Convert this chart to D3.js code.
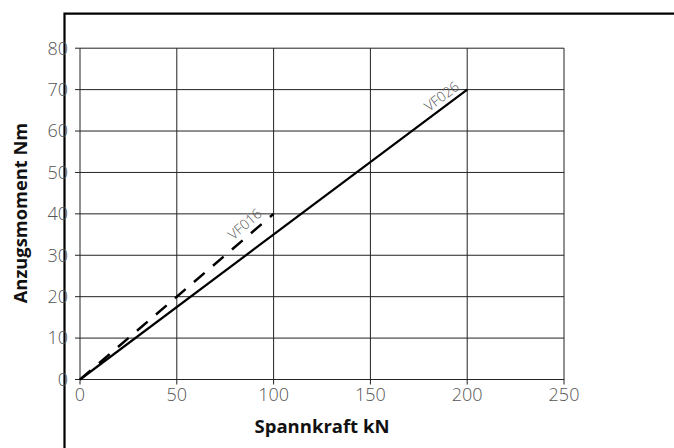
<!DOCTYPE html>
<html><head><meta charset="utf-8">
<script src="https://cdn.jsdelivr.net/npm/d3@7"></script>
<style>body{margin:0;background:#fff}svg{display:block}</style>
</head><body>
<svg id="c" width="674" height="448"></svg>
<script>
const xTicks = [0, 50, 100, 150, 200, 250];
const yTicks = [0, 10, 20, 30, 40, 50, 60, 70, 80];
const seriesNames = ["VF016", "VF026"];
const vf016 = [[0, 0], [100, 40]];
const vf026 = [[0, 0], [200, 70]];
const xTitle = "Spannkraft kN";
const yTitle = "Anzugsmoment Nm";

const svg = d3.select("#c");
const x = d3.scaleLinear().domain([0, 250]).range([80, 564]);
const y = d3.scaleLinear().domain([0, 80]).range([379.5, 48.2]);

// grid
const g = svg.append("g");
g.selectAll(".vg").data(xTicks).join("line")
  .attr("x1", d => x(d)).attr("x2", d => x(d))
  .attr("y1", y(80)).attr("y2", y(0) + 5)
  .attr("stroke", "#222").attr("stroke-width", 1);
g.selectAll(".hg").data(yTicks).join("line")
  .attr("y1", d => y(d)).attr("y2", d => y(d))
  .attr("x1", x(0) - 5).attr("x2", x(250))
  .attr("stroke", "#222").attr("stroke-width", 1);

// frame
svg.append("path").attr("d", "M64.5,448 V13.7 H674")
  .attr("fill", "none").attr("stroke", "#000").attr("stroke-width", 2.2);

// tick labels
const tf = "'Open Sans', sans-serif";
svg.append("g").selectAll("text").data(yTicks).join("text")
  .attr("x", 68).attr("y", d => y(d)).attr("dy", "0.35em")
  .attr("text-anchor", "end").attr("font-family", tf).attr("font-weight", 300)
  .attr("font-size", 18).attr("fill", "#555").text(d => d);
svg.append("g").selectAll("text").data(xTicks).join("text")
  .attr("x", d => x(d)).attr("y", 401)
  .attr("text-anchor", "middle").attr("font-family", tf).attr("font-weight", 300)
  .attr("font-size", 18).attr("fill", "#555").text(d => d);

// titles
svg.append("text").attr("x", 322).attr("y", 432.5).attr("text-anchor", "middle")
  .attr("font-family", tf).attr("font-weight", 700).attr("font-size", 18.5)
  .attr("fill", "#111").text(xTitle);
svg.append("text").attr("transform", "translate(26.5,213) rotate(-90)")
  .attr("text-anchor", "middle")
  .attr("font-family", tf).attr("font-weight", 700).attr("font-size", 18.3)
  .attr("fill", "#111").text(yTitle);

// lines
const line = d3.line().x(d => x(d[0])).y(d => y(d[1]));
svg.append("path").datum(vf016).attr("d", line).attr("fill", "none")
  .attr("stroke", "#000").attr("stroke-width", 2.5).attr("stroke-dasharray", "14,11");
svg.append("path").datum(vf026).attr("d", line).attr("fill", "none")
  .attr("stroke", "#000").attr("stroke-width", 2.2);

// series labels
function label(data, name, dx, dy) {
  const p0 = data[0], p1 = data[data.length - 1];
  const ang = Math.atan2(y(p1[1]) - y(p0[1]), x(p1[0]) - x(p0[0])) * 180 / Math.PI;
  svg.append("text")
    .attr("transform", `translate(${x(p1[0])},${y(p1[1])}) rotate(${ang})`)
    .attr("dx", dx).attr("dy", dy).attr("text-anchor", "end")
    .attr("font-family", tf).attr("font-weight", 300).attr("font-size", 14)
    .attr("fill", "#555").text(name);
}
label(vf016, seriesNames[0], -9, -6);
label(vf026, seriesNames[1], -5, -5);
</script>
</body></html>
